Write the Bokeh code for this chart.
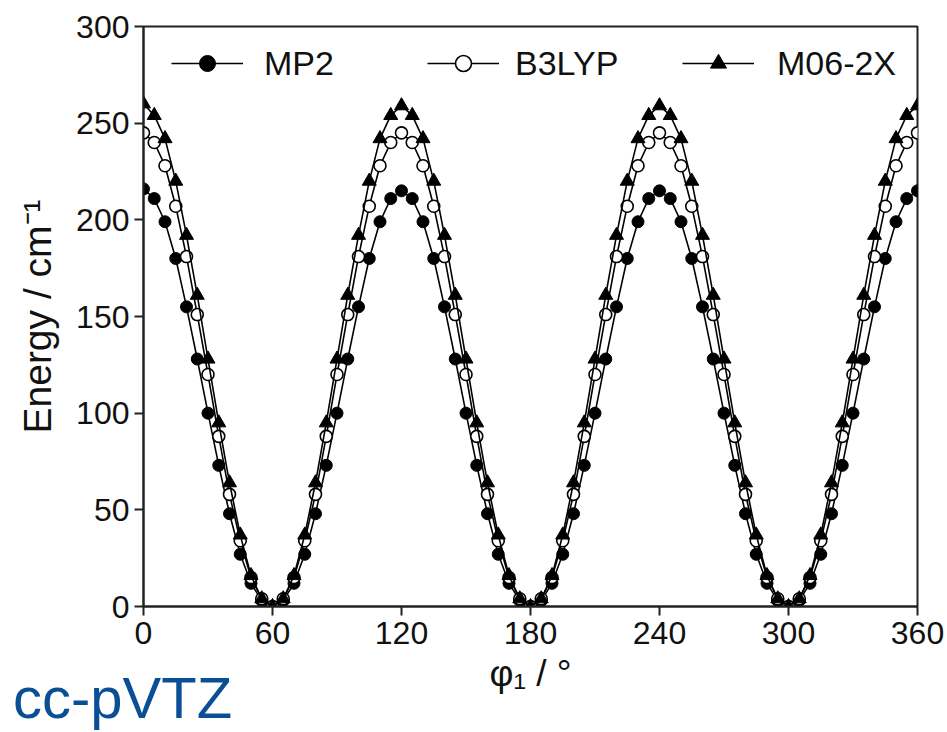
from bokeh.plotting import figure
from bokeh.models import Range1d, FixedTicker, Legend, LegendItem, Div
from bokeh.layouts import column
from bokeh.embed import file_html
from bokeh.resources import INLINE

phi = list(range(0, 365, 5))

mp2 = [216, 211, 199, 180, 155, 128, 100, 73, 48, 27, 12, 3, 0,
       3, 12, 27, 48, 73, 100, 128, 155, 180, 199, 211, 215,
       211, 199, 180, 155, 128, 100, 73, 48, 27, 12, 3, 0,
       3, 12, 27, 48, 73, 100, 128, 155, 180, 199, 211, 215,
       211, 199, 180, 155, 128, 100, 73, 48, 27, 12, 3, 0,
       3, 12, 27, 48, 73, 100, 128, 155, 180, 199, 211, 215]
b3lyp = [245, 240, 228, 207, 181, 151, 120, 88, 58, 34, 15, 4, 0,
         4, 15, 34, 58, 88, 120, 151, 181, 207, 228, 240, 245,
         240, 228, 207, 181, 151, 120, 88, 58, 34, 15, 4, 0,
         4, 15, 34, 58, 88, 120, 151, 181, 207, 228, 240, 245,
         240, 228, 207, 181, 151, 120, 88, 58, 34, 15, 4, 0,
         4, 15, 34, 58, 88, 120, 151, 181, 207, 228, 240, 245]
m062x = [260, 254, 242, 220, 192, 161, 128, 95, 64, 37, 16, 4, 0,
         4, 16, 37, 64, 95, 128, 161, 192, 220, 242, 254, 259,
         254, 242, 220, 192, 161, 128, 95, 64, 37, 16, 4, 0,
         4, 16, 37, 64, 95, 128, 161, 192, 220, 242, 254, 259,
         254, 242, 220, 192, 161, 128, 95, 64, 37, 16, 4, 0,
         4, 16, 37, 64, 95, 128, 161, 192, 220, 242, 254, 259]

x_ticks = [0, 60, 120, 180, 240, 300, 360]
y_ticks = [0, 50, 100, 150, 200, 250, 300]
caption = "cc-pVTZ"

FONT = "Liberation Sans"
W, H = 945, 712
FL, FR, FT, FB = 143, 917, 26, 606

p = figure(width=W, height=H, output_backend="svg", toolbar_location=None,
           x_range=Range1d(0, 360), y_range=Range1d(0, 300),
           min_border_left=FL, min_border_right=W - FR, min_border_top=FT,
           min_border_bottom=H - FB)
p.xgrid.visible = False
p.ygrid.visible = False
p.outline_line_color = "#222222"
p.outline_line_width = 2
p.background_fill_color = "white"
p.border_fill_color = "white"

for ax in (p.xaxis, p.yaxis):
    ax.axis_line_width = 2
    ax.axis_line_color = "#222222"
    ax.major_tick_line_width = 2
    ax.major_tick_line_color = "#222222"
    ax.major_tick_out = 9
    ax.major_tick_in = 0
    ax.minor_tick_line_color = None
    ax.major_label_text_font = FONT
    ax.major_label_text_font_size = "32px"
    ax.major_label_text_color = "#111111"
    ax.axis_label_text_font = FONT
    ax.axis_label_text_font_style = "normal"
    ax.axis_label_text_color = "#111111"

p.xaxis.ticker = FixedTicker(ticks=x_ticks)
p.yaxis.ticker = FixedTicker(ticks=y_ticks)
p.xaxis.major_label_standoff = 6
p.yaxis.major_label_standoff = 5
p.xaxis.axis_label = "φ₁ / °"
p.yaxis.axis_label = "Energy / cm⁻¹"
p.xaxis.axis_label_text_font_size = "37px"
p.yaxis.axis_label_text_font_size = "39px"
p.xaxis.axis_label_standoff = 6
p.yaxis.axis_label_standoff = 14

r1l = p.line(phi, mp2, line_color="black", line_width=1.6)
r1m = p.scatter(phi, mp2, marker="circle", size=12, fill_color="black", line_color="black")
r2l = p.line(phi, b3lyp, line_color="black", line_width=1.6)
r2m = p.scatter(phi, b3lyp, marker="circle", size=12, fill_color="white", line_color="black", line_width=1.6)
r3l = p.line(phi, m062x, line_color="black", line_width=1.6)
r3m = p.scatter(phi, m062x, marker="triangle", size=14, fill_color="black", line_color="black")

frame_h = FB - FT
leg_h = 40
leg_y = frame_h - 37 - leg_h // 2
for lab, rends, x0, st in [("MP2", [r1l, r1m], 171, 21),
                           ("B3LYP", [r2l, r2m], 427, 16),
                           ("M06-2X", [r3l, r3m], 682, 23)]:
    lg = Legend(items=[LegendItem(label=lab, renderers=rends)],
                location=(x0 - FL, leg_y), orientation="horizontal",
                border_line_color=None, background_fill_alpha=0,
                glyph_width=72, glyph_height=leg_h, label_height=leg_h,
                label_text_font=FONT, label_text_font_size="34px",
                label_text_color="#111111", label_text_baseline="middle",
                padding=0, margin=0, spacing=0, label_standoff=st)
    p.add_layout(lg, "center")

cap = Div(text=caption, width=300, height=48, margin=(-38, 0, 0, 13),
          styles={"font-family": FONT, "font-size": "58px", "line-height": "48px",
                  "color": "#0a4f96", "white-space": "nowrap", "overflow": "visible"})

layout = column(p, cap, spacing=0)
open("out.html", "w").write(file_html(layout, INLINE))
